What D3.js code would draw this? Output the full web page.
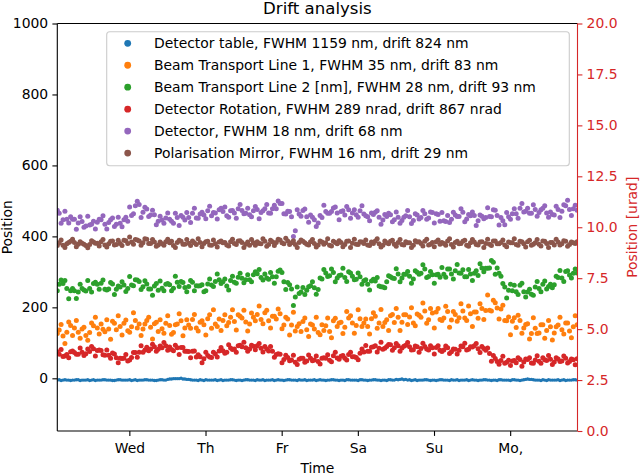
<!DOCTYPE html>
<html><head><meta charset="utf-8">
<script src="https://cdn.jsdelivr.net/npm/d3@7"></script>
<style>body{margin:0;background:#fff}svg{display:block}text{font-family:"DejaVu Sans",sans-serif}</style>
</head><body><svg id="c" width="640" height="474"></svg>
<script>
// ---------- data ----------
const dayTickValues = [1, 2, 3, 4, 5, 6];
const dayTickLabels = ["Wed", "Th", "Fr", "Sa", "Su", "Mo,"];
const timeDomain = [0.054, 6.884];            // days
const sampleStart = 0.054, sampleStep = 0.05;  // sample times of set A (days)
const sampleOffsetB = 0.025;                   // set B sampled half a step later
const leftTicks = [0, 200, 400, 600, 800, 1000];
const rightTicks = [0, 2.5, 5, 7.5, 10, 12.5, 15, 17.5, 20];

const seriesNames = [
  "Detector table, FWHM 1159 nm, drift 824 nm",
  "Beam Transport Line 1, FWHM 35 nm, drift 83 nm",
  "Beam Transport Line 2 [nm], FWHM 28 nm, drift 93 nm",
  "Detector Rotation, FWHM 289 nrad, drift 867 nrad",
  "Detector, FWHM 18 nm, drift 68 nm",
  "Polarisation Mirror, FWHM 16 nm, drift 29 nm"
];
const seriesColors = ["#1f77b4", "#ff7f0e", "#2ca02c", "#d62728", "#9467bd", "#8c564b"];
const seriesAxis = ["left", "left", "left", "right", "left", "left"];

// set A
const detectorTable = [-5,-6,-4,-5,-5,-4,-6,-5,-4,-5, -6,-5,-4,-5,-5,-6,-4,-5,-5,-4, -5,-6,-5,-4,-5,-5,-6,-4,-5,-3,
  -2,-1,-1,-2,-3,-4,-5,-6,-5,-4, -5,-5,-6,-4,-5,-5,-4,-6,-5,-5, -4,-5,-6,-5,-4,-5,-5,-6,-4,-5,
  -5,-4,-5,-6,-5,-4,-5,-5,-6,-4, -5,-5,-4,-5,-6,-5,-4,-5,-5,-6, -4,-5,-5,-4,-5,-6,-5,-4,-5,-3,
  -3,-4,-5,-6,-4,-5,-5,-4,-6,-5, -5,-4,-5,-6,-5,-4,-5,-5,-6,-4, -5,-5,-4,-5,-6,-5,-4,-5,-5,-6,
  -4,-5,-5,-3,-3,-4,-5,-6,-5,-4, -5,-5,-6,-4,-5,-5,-4];
const beamLine1 = [126,152,98,159,121,163,113,144,107,156, 172,125,138,165,110,155,176,122,164,130,
  185,142,121,153,172,111,158,165,127,176, 124,151,182,120,165,141,180,133,162,122,
  179,193,146,135,179,157,193,136,175,192, 133,184,162,204,154,192,142,175,195,140,
  172,122,186,146,132,170,118,150,172,123, 135,170,114,169,156,126,188,176,127,193,
  146,167,125,185,141,194,157,135,180,197, 135,179,152,199,148,178,212,155,197,142,
  197,163,203,144,188,161,210,170,204,146, 187,210,166,235,190,213,167,206,162,123,
  171,178,127,152,111,171,126,151,113,163, 108,145,172,125,156,114,176];
const beamLine2 = [247,277,276,224,253,225,265,249,276,243, 271,251,277,249,270,236,260,272,245,287,
  261,277,250,275,252,234,267,274,247,267, 247,288,259,270,244,276,247,260,264,247,
  280,259,294,267,280,249,288,268,296,269, 292,272,300,307,277,283,298,268,302,298,
  250,264,205,257,243,236,258,272,237,283, 307,287,308,272,290,310,273,297,278,297,
  265,278,249,279,284,258,255,289,283,309, 272,293,301,268,303,293,320,284,301,268,
  293,312,285,308,280,321,296,286,307,276, 303,323,300,310,332,293,296,267,226,265,
  262,236,268,229,251,234,273,244,274,259, 255,288,304,273,303,283,308];
const detectorRotation = [3.89,4.00,3.68,3.60,3.93,3.77,4.07,3.70,4.02,4.15, 3.68,3.97,3.74,3.97,3.57,3.78,3.35,3.56,3.75,3.49,
  3.85,3.62,4.18,3.98,3.94,4.26,3.92,4.17,4.34,3.96, 4.00,4.21,3.76,4.10,3.92,3.60,3.93,3.74,3.35,3.87,
  3.63,3.87,3.63,4.10,3.82,4.23,4.00,3.87,4.21,4.35, 3.91,4.21,3.99,4.30,3.88,4.02,4.15,3.62,3.79,3.35,
  3.72,3.45,3.72,3.26,3.57,3.38,3.73,3.45,3.68,3.29, 3.59,3.74,3.40,3.87,3.52,3.71,3.49,3.87,3.64,3.50,
  4.03,4.20,3.92,4.13,3.88,4.35,4.06,4.25,3.96,4.30, 3.91,4.16,4.34,3.97,4.17,3.87,4.31,4.02,4.19,3.78,
  4.19,3.90,4.17,3.80,4.02,3.78,4.17,4.31,4.01,4.12, 4.29,3.85,4.05,4.07,3.42,3.56,3.28,3.67,3.37,3.22,
  3.46,3.60,3.18,3.53,3.59,3.33,3.69,3.32,3.50,3.71, 3.26,3.59,3.41,3.68,3.34,3.53,3.25];
const detector = [474,437,471,438,448,420,455,426,457,434, 421,448,458,421,447,428,454,427,454,483,
  464,499,453,482,456,474,433,457,437,466, 443,465,431,454,467,439,479,451,468,450,
  485,467,449,479,483,454,473,451,490,464, 479,455,484,450,472,490,465,488,500,493,
  463,470,400,475,457,477,440,454,428,459, 488,465,470,483,447,472,484,451,475,454,
  486,458,444,462,472,434,462,465,441,469, 437,454,473,436,464,449,473,448,469,438,
  462,467,442,439,468,456,478,441,462,469, 431,460,450,481,455,474,432,444,467,448,
  478,451,493,471,465,489,457,475,486,454, 462,485,453,489,502,459,488];
const polMirror = [374,390,369,383,392,371,385,378,368,388, 381,373,391,370,386,376,389,374,388,398,
  378,390,375,393,380,391,372,384,375,392, 386,369,389,378,391,374,382,393,371,385,
  376,390,370,387,383,373,392,377,388,369, 384,391,375,380,393,372,389,374,392,382,
  395,377,388,369,390,382,376,391,370,387, 378,393,373,383,388,371,386,369,392,377,
  384,390,374,380,393,370,387,379,389,372, 391,376,382,369,388,385,373,392,378,371,
  390,383,375,393,370,386,380,389,372,391, 377,384,369,392,374,387,379,390,371,382,
  393,375,385,370,389,378,391,373,386,369, 383,392,376,388,372,384,380];

// set B (half a step later)
const detectorTableB = [-4,-5,-5,-6,-5,-4,-5,-5,-6,-4, -5,-5,-4,-5,-6,-5,-4,-5,-5,-6, -4,-5,-5,-4,-5,-6,-5,-4,-5,-2,
  -1,-1,0,-2,-3,-5,-5,-4,-6,-5, -5,-4,-5,-6,-5,-4,-5,-5,-6,-4, -5,-5,-4,-5,-6,-5,-4,-5,-5,-6,
  -4,-5,-5,-4,-5,-6,-5,-4,-5,-5, -6,-5,-4,-5,-5,-6,-4,-5,-5,-4, -5,-6,-5,-4,-5,-5,-6,-4,-5,-4,
  -2,-3,-4,-5,-6,-5,-4,-5,-5,-6, -4,-5,-5,-4,-5,-6,-5,-4,-5,-5, -6,-5,-4,-5,-5,-6,-4,-5,-5,-4,
  -5,-6,-4,-2,-3,-5,-5,-4,-6,-5, -5,-4,-5,-6,-5,-4,-5];
const beamLine1B = [136,119,130,149,142,130,139,121,129,148, 142,153,131,139,161,137,146,155,134,145,
  163,153,139,163,144,154,132,140,155,149, 129,153,162,142,150,166,142,158,151,168,
  141,153,167,163,148,172,160,179,170,159, 153,172,180,166,185,162,175,167,182,150,
  167,150,133,154,160,137,153,139,129,151, 148,132,162,146,158,144,170,156,149,168,
  156,146,168,175,156,146,165,176,157,172, 158,179,173,156,181,172,190,165,184,187,
  166,170,188,164,180,171,190,163,182,187, 169,197,191,192,220,198,195,163,173,161,
  143,163,142,154,126,141,128,151,135,145, 128,150,137,156,133,145,151];
const beamLine2B = [265,267,253,247,247,243,253,246,253,267, 265,268,251,252,266,251,257,263,253,263,
  278,273,258,266,252,260,248,254,265,264, 254,271,273,256,259,271,261,261,244,266,
  263,273,278,272,260,276,271,285,282,278, 278,292,295,284,294,279,286,286,305,272,
  270,252,229,239,256,248,261,255,250,280, 297,289,298,283,291,284,300,288,279,286,
  275,265,274,274,260,257,272,286,281,294, 283,293,288,280,299,296,308,287,292,292,
  285,293,308,294,303,297,306,286,294,296, 290,311,310,311,327,311,288,257,248,247,
  244,262,244,243,237,257,253,265,252,265, 264,284,283,301,291,296,297];
const detectorRotationB = [3.77,3.66,3.75,3.89,3.85,3.77,3.87,3.79,3.90,4.04, 3.95,3.95,3.72,3.72,3.83,3.59,3.57,3.57,3.44,3.61,
  3.85,3.87,3.86,4.11,4.03,4.13,4.01,4.08,4.19,4.12, 3.94,4.09,4.10,3.92,3.90,3.91,3.63,3.64,3.55,3.71,
  3.61,3.78,3.93,3.94,3.87,4.07,4.02,4.18,4.14,4.08, 4.03,4.16,4.19,4.06,4.15,3.93,3.92,3.76,3.77,3.51,
  3.61,3.48,3.37,3.52,3.57,3.44,3.57,3.48,3.41,3.57, 3.57,3.47,3.69,3.58,3.67,3.57,3.76,3.65,3.61,3.82,
  3.88,3.91,4.11,4.19,4.06,4.01,4.15,4.23,4.09,4.18, 4.07,4.21,4.14,3.99,4.13,4.05,4.15,3.97,4.09,4.10,
  3.96,3.97,4.08,3.89,4.01,3.96,4.13,3.97,4.14,4.19, 4.04,4.15,3.96,3.80,3.71,3.41,3.46,3.33,3.47,3.44,
  3.35,3.51,3.39,3.51,3.34,3.48,3.42,3.59,3.46,3.52, 3.39,3.53,3.44,3.57,3.41,3.50,3.55];
const detectorB = [465,447,448,455,448,438,442,429,432,443, 440,447,434,439,452,434,437,447,443,459,
  486,490,468,477,460,461,443,446,452,448, 437,453,459,446,453,465,452,463,460,472,
  458,466,475,470,458,472,466,478,473,465, 461,472,476,467,478,466,478,478,493,464,
  471,455,416,463,473,455,460,447,438,453, 470,465,480,466,470,460,475,466,461,472,
  463,455,466,468,454,446,456,461,447,454, 445,458,455,445,460,453,464,452,467,464,
  443,444,459,448,460,456,468,449,458,459, 444,457,453,456,475,459,453,433,455,464,
  464,479,469,479,465,476,467,479,466,469, 460,476,471,486,476,478,474];
const polMirrorB = [382,375,379,386,383,378,381,374,377,384, 381,385,376,379,387,377,380,389,380,384,
  391,387,382,392,380,384,376,379,385,382, 374,383,386,378,381,387,377,383,380,386,
  375,379,384,382,376,385,380,387,383,378, 375,382,385,379,386,377,385,383,390,379,
  387,382,377,383,386,378,385,380,376,384, 382,375,386,379,383,377,387,381,378,385,
  380,376,384,387,379,375,382,386,378,383, 377,385,382,375,384,380,386,376,383,385,
  378,380,387,377,383,379,386,375,382,384, 376,385,380,378,387,379,383,376,384,382,
  377,386,379,385,375,382,378,387,380,383, 376,384,379,386,377,382,385];

const seriesValues = [detectorTable, beamLine1, beamLine2, detectorRotation, detector, polMirror];
const seriesValuesB = [detectorTableB, beamLine1B, beamLine2B, detectorRotationB, detectorB, polMirrorB];

// ---------- layout ----------
const svg = d3.select("#c");
const L = 57.3, R = 577.5, T = 23.5, B = 431;
const FS = 13.9;
const x = d3.scaleLinear().domain(timeDomain).range([L, R]);
const yL = d3.scaleLinear().domain([-148.5, 1000]).range([B, T]);
const yR = d3.scaleLinear().domain([0, 20]).range([B, T]);
const red = "#d62728";

svg.append("defs").append("clipPath").attr("id", "clip")
  .append("rect").attr("x", L).attr("y", T).attr("width", R - L).attr("height", B - T);

// data points
const plot = svg.append("g").attr("clip-path", "url(#clip)");
seriesValues.forEach((vals, s) => {
  const ys = seriesAxis[s] === "left" ? yL : yR;
  const pts = vals.map((v, i) => ({t: sampleStart + i * sampleStep, v}))
    .concat(seriesValuesB[s].map((v, i) => ({t: sampleStart + sampleOffsetB + i * sampleStep, v})));
  plot.append("g").selectAll("circle").data(pts).join("circle")
    .attr("cx", d => x(d.t))
    .attr("cy", d => ys(d.v))
    .attr("r", s === 0 ? 1.7 : 2.5)
    .attr("fill", seriesColors[s]);
});

// axes
function styleAxis(g, color) {
  g.select(".domain").remove();
  g.selectAll("line").attr("stroke", color).attr("stroke-width", 1.1);
  g.selectAll("text").attr("fill", color).attr("font-size", FS).attr("font-family", "DejaVu Sans");
}
const gx = svg.append("g").attr("transform", `translate(0,${B})`)
  .call(d3.axisBottom(x).tickValues(dayTickValues).tickFormat((d, i) => dayTickLabels[i]).tickSize(4.9));
styleAxis(gx, "#000");
gx.selectAll("text").attr("dy", null).attr("y", 22.3);

const gl = svg.append("g").attr("transform", `translate(${L},0)`)
  .call(d3.axisLeft(yL).tickValues(leftTicks).tickFormat(d3.format("d")).tickSize(4.9).tickPadding(4.2));
styleAxis(gl, "#000");

const gr = svg.append("g").attr("transform", `translate(${R},0)`)
  .call(d3.axisRight(yR).tickValues(rightTicks).tickFormat(d3.format(".1f")).tickSize(4.9).tickPadding(4.2));
styleAxis(gr, red);

// spines
const sp = svg.append("g").attr("stroke-width", 1.1).attr("fill", "none");
sp.append("line").attr("x1", L).attr("x2", L).attr("y1", T).attr("y2", B).attr("stroke", "#000");
sp.append("line").attr("x1", L).attr("x2", R).attr("y1", T).attr("y2", T).attr("stroke", "#000");
sp.append("line").attr("x1", L).attr("x2", R).attr("y1", B).attr("y2", B).attr("stroke", "#000");
sp.append("line").attr("x1", R).attr("x2", R).attr("y1", T).attr("y2", B).attr("stroke", red);

// labels
svg.append("text").attr("x", (L + R) / 2).attr("y", 13.8).attr("text-anchor", "middle")
  .attr("font-size", 16.6).text("Drift analysis");
svg.append("text").attr("x", (L + R) / 2).attr("y", 472.5).attr("text-anchor", "middle")
  .attr("font-size", FS).text("Time");
svg.append("text").attr("transform", `translate(11.8,${(T + B) / 2}) rotate(-90)`)
  .attr("text-anchor", "middle").attr("font-size", FS).text("Position");
svg.append("text").attr("transform", `translate(637,${(T + B) / 2}) rotate(-90)`)
  .attr("text-anchor", "middle").attr("font-size", FS).attr("fill", red).text("Position [urad]");

// legend
const lg = svg.append("g");
lg.append("rect").attr("x", 106.7).attr("y", 31.7).attr("width", 462.6).attr("height", 134)
  .attr("rx", 3).attr("fill", "#fff").attr("fill-opacity", 0.8).attr("stroke", "#cccccc").attr("stroke-width", 1.1);
seriesNames.forEach((n, i) => {
  const cy = 43.3 + i * 21.95;
  lg.append("circle").attr("cx", 127.7).attr("cy", cy).attr("r", 3.4).attr("fill", seriesColors[i]);
  lg.append("text").attr("x", 154).attr("y", cy + 5).attr("font-size", FS).text(n);
});
</script></body></html>
